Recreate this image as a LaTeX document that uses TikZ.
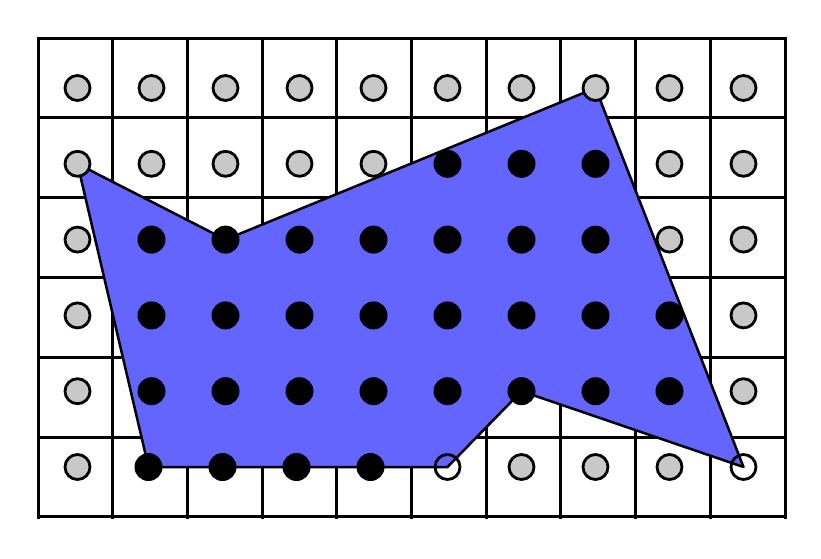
\documentclass[tikz,border=0pt]{standalone}
\definecolor{polyblue}{RGB}{100,100,255}
\definecolor{dotgray}{RGB}{200,200,200}
\tikzset{
  gridline/.style={line width=3pt, line cap=rect},
  polyline/.style={line width=2.5pt, line join=round, fill=polyblue},
  graydot/.style={circle, inner sep=0pt, minimum size=25pt, draw=black, line width=2.8pt, fill=dotgray},
  whitedot/.style={circle, inner sep=0pt, minimum size=25pt, draw=black, line width=2.8pt},
  blackdot/.style={circle, inner sep=0pt, minimum size=28pt, fill=black}
}
\begin{document}
\begin{tikzpicture}[x=1pt,y=-1pt]
\useasboundingbox (0,0) rectangle (821,558);
% grid
\foreach \i in {0,...,10} \draw[gridline] ({38+74.7*\i},38) -- ({38+74.7*\i},517);
\foreach \j in {0,...,6} \draw[gridline] (38,{38+79.8*\j}) -- (785,{38+79.8*\j});
% lattice coordinates
\foreach \i in {0,...,9} \foreach \j in {0,...,5}
  \coordinate (c\i\j) at ({77.5+74*\i},{88+75.8*\j});
\foreach \i in {1,...,4} \coordinate (c\i5) at ({74.5+74*\i},467);
% polygon
\draw[polyline] (c01) -- (c22) -- (c70) -- (c95) -- (c64) -- (c55) -- (c15) -- cycle;
% gray dots
\foreach \i/\j in {0/0,1/0,2/0,3/0,4/0,5/0,6/0,7/0,8/0,9/0,
  0/1,1/1,2/1,3/1,4/1,8/1,9/1,
  0/2,8/2,9/2, 0/3,9/3, 0/4,9/4, 0/5,6/5,7/5,8/5}
  \node[graydot] (d\i\j) at (c\i\j) {};
% black dots
\foreach \i/\j in {5/1,6/1,7/1,
  1/2,2/2,3/2,4/2,5/2,6/2,7/2,
  1/3,2/3,3/3,4/3,5/3,6/3,7/3,8/3,
  1/4,2/4,3/4,4/4,5/4,6/4,7/4,8/4,
  1/5,2/5,3/5,4/5}
  \node[blackdot] (d\i\j) at (c\i\j) {};
% white dots
\foreach \i/\j in {5/5,9/5}
  \node[whitedot] (d\i\j) at (c\i\j) {};
\end{tikzpicture}
\end{document}
